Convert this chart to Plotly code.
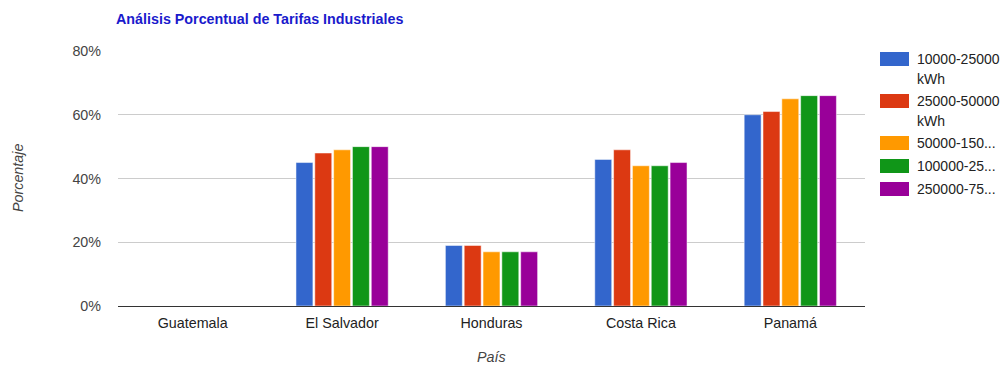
import plotly.graph_objects as go

# Tarifas industriales por país y rango de consumo (porcentaje)
paises = ["Guatemala", "El Salvador", "Honduras", "Costa Rica", "Panamá"]

rangos = [
    "10000-25000<br>kWh",
    "25000-50000<br>kWh",
    "50000-150...",
    "100000-25...",
    "250000-75...",
]

rango_10000_25000 = [0, 45, 19, 46, 60]
rango_25000_50000 = [0, 48, 19, 49, 61]
rango_50000_150000 = [0, 49, 17, 44, 65]
rango_100000_250000 = [0, 50, 17, 44, 66]
rango_250000_750000 = [0, 50, 17, 45, 66]

series = [
    rango_10000_25000,
    rango_25000_50000,
    rango_50000_150000,
    rango_100000_250000,
    rango_250000_750000,
]

colores = ["#3366cc", "#dc3912", "#ff9900", "#109618", "#990099"]

W, H = 1001, 365
L, R, T, B = 118, 136, 51, 59
PW, PH = W - L - R, H - T - B
FONT = "Liberation Sans, Arial, sans-serif"


def px_x(x):
    """Pixel column -> plot-area paper fraction."""
    return (x - L) / PW


def px_y(y):
    """Pixel row -> plot-area paper fraction."""
    return 1 - (y - T) / PH


fig = go.Figure()
for nombre, valores, color in zip(rangos, series, colores):
    fig.add_trace(
        go.Bar(
            x=paises,
            y=[v / 100 for v in valores],
            name=nombre,
            marker=dict(color=color, line=dict(color="rgba(255,255,255,0.5)", width=1)),
            showlegend=False,
        )
    )

# Legend drawn as swatches + labels to get the wide colour blocks
shapes = []
annotations = []
y_cursor = 52
for nombre, color in zip(rangos, colores):
    lineas = nombre.split("<br>")
    shapes.append(
        dict(
            type="rect",
            xref="paper",
            yref="paper",
            x0=px_x(880),
            x1=px_x(909),
            y0=px_y(y_cursor),
            y1=px_y(y_cursor + 14),
            fillcolor=color,
            line=dict(width=0),
            layer="above",
        )
    )
    for i, linea in enumerate(lineas):
        annotations.append(
            dict(
                text=linea,
                xref="paper",
                yref="paper",
                x=px_x(915),
                y=px_y(y_cursor + 7 + 20 * i),
                xanchor="left",
                yanchor="middle",
                showarrow=False,
                font=dict(family=FONT, size=14, color="#222222"),
            )
        )
    y_cursor += 19 * len(lineas) + 4

# Axis titles
annotations.append(
    dict(
        text="Porcentaje",
        xref="paper",
        yref="paper",
        x=px_x(18),
        y=px_y(178),
        xanchor="center",
        yanchor="middle",
        textangle=-90,
        showarrow=False,
        font=dict(family=FONT, size=14.3, color="#444444", style="italic"),
    )
)
annotations.append(
    dict(
        text="País",
        xref="paper",
        yref="paper",
        x=px_x(491.5),
        y=px_y(357),
        xanchor="center",
        yanchor="middle",
        showarrow=False,
        font=dict(family=FONT, size=14.3, color="#444444", style="italic"),
    )
)

fig.update_layout(
    width=W,
    height=H,
    margin=dict(l=L, r=R, t=T, b=B, autoexpand=False),
    paper_bgcolor="white",
    plot_bgcolor="white",
    font=dict(family=FONT, size=14.3, color="#222222"),
    barmode="group",
    bargap=0.37,
    bargroupgap=0.1,
    title=dict(
        text="Análisis Porcentual de Tarifas Industriales",
        x=116 / W,
        xanchor="left",
        y=1 - 19 / H,
        yanchor="middle",
        font=dict(size=14.3, color="#1a1acc", family=FONT, weight="bold"),
    ),
    showlegend=False,
    shapes=shapes,
    annotations=annotations,
    xaxis=dict(
        showline=True,
        linecolor="#333333",
        linewidth=1,
        ticks="",
        ticklabelstandoff=4,
        tickfont=dict(size=14.3, color="#222222"),
        automargin=False,
    ),
    yaxis=dict(
        range=[0, 0.8],
        dtick=0.2,
        tickformat=".0%",
        gridcolor="#cccccc",
        zeroline=False,
        ticks="",
        ticklabelstandoff=16,
        tickfont=dict(size=14.3, color="#444444"),
        automargin=False,
    ),
)

fig.write_html("out.html")
